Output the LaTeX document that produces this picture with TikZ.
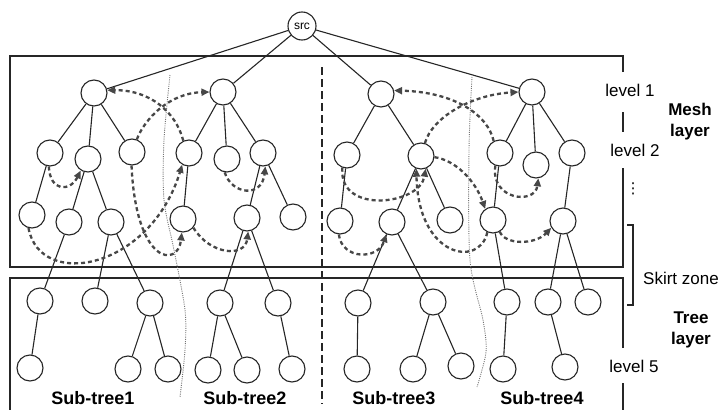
\documentclass[tikz,border=0pt]{standalone}
\usepackage{fontspec}
\setmainfont{Liberation Sans}
\newfontfamily\dejavu{DejaVu Sans}
\usetikzlibrary{arrows.meta}
\begin{document}
\begin{tikzpicture}[x=1pt,y=-1pt,
  nd/.style={circle,draw=black!85,fill=white,line width=1.1pt,minimum size=26pt,inner sep=0pt},
  edge/.style={draw=black!85,line width=1.1pt},
  mesharrow/.style={draw=black!72,line width=2.3pt,dash pattern=on 4pt off 3pt,-{Triangle[length=8pt,width=7pt]}},
  frame/.style={draw=black!85,line width=1.4pt},
  divider/.style={draw=black!85,line width=1.2pt,dash pattern=on 8pt off 4pt},
  border/.style={draw=black!55,line width=0.9pt,dash pattern=on 1pt off 1.2pt},
  lbl/.style={font=\fontsize{17}{20}\selectfont,inner sep=0pt},
  blbl/.style={font=\fontsize{17}{21}\selectfont\bfseries,align=center,inner sep=0pt},
  sublbl/.style={font=\fontsize{18}{21}\selectfont\bfseries,inner sep=0pt}
]
\useasboundingbox (0,0) rectangle (721,410);

% frames
\draw[frame] (623,72) -- (623,56) -- (10,56) -- (10,267) -- (623,267) -- (623,168);
\draw[frame] (623,112) -- (623,132);
\draw[frame] (623,348) -- (623,278) -- (10,278) -- (10,410);
\draw[frame] (623,383) -- (623,410);
% skirt bracket
\draw[frame,line width=1.2pt] (627,225) -- (633,225) -- (633,305) -- (627,305);

% dotted sub-tree borders
\draw[border] plot[smooth] coordinates {(170,75) (164,140) (164,200) (174,250) (185,310) (185,350) (180,397)};
\draw[border] plot[smooth] coordinates {(472,77) (469,150) (470,260) (483,320) (486,352) (477,387)};
% dashed divider
\draw[divider] (322,67) -- (322,404);

% nodes
\node[nd,minimum size=28pt,font=\fontsize{12}{14}\selectfont] (src) at (302,26) {src};
% sub-tree 1
\node[nd] (A1) at (94,93) {};
\node[nd] (B1) at (50,153) {};
\node[nd] (B2) at (88,159) {};
\node[nd] (B3) at (132,152) {};
\node[nd] (C1) at (32,215) {};
\node[nd] (C2) at (69,222) {};
\node[nd] (C3) at (111,222) {};
\node[nd] (D1) at (40,301) {};
\node[nd] (D2) at (95,301) {};
\node[nd] (D3) at (150,303) {};
\node[nd] (E1) at (30,368) {};
\node[nd] (E2) at (128,369) {};
\node[nd] (E3) at (168,369) {};
% sub-tree 2
\node[nd] (A2) at (223,92) {};
\node[nd] (F1) at (189,153) {};
\node[nd] (F2) at (227,159) {};
\node[nd] (F3) at (263,153) {};
\node[nd] (G1) at (183,219) {};
\node[nd] (G2) at (247,218) {};
\node[nd] (G3) at (293,217) {};
\node[nd] (H1) at (220,303) {};
\node[nd] (H2) at (278,303) {};
\node[nd] (I1) at (208,370) {};
\node[nd] (I2) at (247,370) {};
\node[nd] (I3) at (292,369) {};
% sub-tree 3
\node[nd] (A3) at (381,94) {};
\node[nd] (J1) at (347,155) {};
\node[nd] (J2) at (421,156) {};
\node[nd] (K1) at (340,221) {};
\node[nd] (K2) at (392,222) {};
\node[nd] (K3) at (450,220) {};
\node[nd] (L1) at (358,303) {};
\node[nd] (L2) at (433,302) {};
\node[nd] (M1) at (357,369) {};
\node[nd] (M2) at (413,369) {};
\node[nd] (M3) at (461,366) {};
% sub-tree 4
\node[nd] (A4) at (532,92) {};
\node[nd] (N1) at (500,153) {};
\node[nd] (N2) at (536,165) {};
\node[nd] (N3) at (572,153) {};
\node[nd] (O1) at (493,220) {};
\node[nd] (O2) at (563,221) {};
\node[nd] (P1) at (507,302) {};
\node[nd] (P2) at (548,302) {};
\node[nd] (P3) at (588,302) {};
\node[nd] (Q1) at (503,369) {};
\node[nd] (Q2) at (565,367) {};

% tree edges
\draw[edge] (src) -- (A1);
\draw[edge] (src) -- (A2);
\draw[edge] (src) -- (A3);
\draw[edge] (src) -- (A4);
\draw[edge] (A1) -- (B1);
\draw[edge] (A1) -- (B2);
\draw[edge] (A1) -- (B3);
\draw[edge] (B1) -- (C1);
\draw[edge] (B2) -- (C2);
\draw[edge] (B2) -- (C3);
\draw[edge] (C2) -- (D1);
\draw[edge] (C3) -- (D2);
\draw[edge] (C3) -- (D3);
\draw[edge] (D1) -- (E1);
\draw[edge] (D3) -- (E2);
\draw[edge] (D3) -- (E3);
\draw[edge] (A2) -- (F1);
\draw[edge] (A2) -- (F2);
\draw[edge] (A2) -- (F3);
\draw[edge] (F1) -- (G1);
\draw[edge] (F3) -- (G2);
\draw[edge] (F3) -- (G3);
\draw[edge] (G2) -- (H1);
\draw[edge] (G2) -- (H2);
\draw[edge] (H1) -- (I1);
\draw[edge] (H1) -- (I2);
\draw[edge] (H2) -- (I3);
\draw[edge] (A3) -- (J1);
\draw[edge] (A3) -- (J2);
\draw[edge] (J1) -- (K1);
\draw[edge] (J2) -- (K2);
\draw[edge] (J2) -- (K3);
\draw[edge] (K2) -- (L1);
\draw[edge] (K2) -- (L2);
\draw[edge] (L1) -- (M1);
\draw[edge] (L2) -- (M2);
\draw[edge] (L2) -- (M3);
\draw[edge] (A4) -- (N1);
\draw[edge] (A4) -- (N2);
\draw[edge] (A4) -- (N3);
\draw[edge] (N1) -- (O1);
\draw[edge] (N3) -- (O2);
\draw[edge] (O1) -- (P1);
\draw[edge] (O2) -- (P2);
\draw[edge] (O2) -- (P3);
\draw[edge] (P1) -- (Q1);
\draw[edge] (P2) -- (Q2);

% mesh (dashed) arrows
\draw[mesharrow] (F1.115) .. controls (176,112) and (150,90) .. (A1.12);
\draw[mesharrow] (B3.69) .. controls (145,118) and (170,93) .. (A2.180);
\draw[mesharrow] (N1.118) .. controls (488,115) and (455,92) .. (A3.15);
\draw[mesharrow] (J2.73) .. controls (432,118) and (470,95) .. (A4.180);
\draw[mesharrow] (B1.265) .. controls (50,192) and (70,192) .. (B2.238);
\draw[mesharrow] (B3.268) .. controls (136,265) and (178,268) .. (G1.265);
\draw[mesharrow] (C1.255) .. controls (40,290) and (150,270) .. (F1.240);
\draw[mesharrow] (F2.260) .. controls (232,195) and (262,198) .. (F3.280);
\draw[mesharrow] (G1.320) .. controls (210,255) and (245,258) .. (G2.275);
\draw[mesharrow] (J1.250) .. controls (338,215) and (420,205) .. (J2.290);
\draw[mesharrow] (O1.245) .. controls (480,268) and (418,258) .. (J2.250);
\draw[mesharrow] (J2.355) .. controls (455,160) and (475,180) .. (O1.125);
\draw[mesharrow] (K1.265) .. controls (342,260) and (378,260) .. (K2.245);
\draw[mesharrow] (N1.250) .. controls (490,200) and (535,205) .. (N2.280);
\draw[mesharrow] (O1.300) .. controls (505,245) and (535,245) .. (O2.210);

% labels
\node[lbl] (lv1) at (630,90) {level 1};
\node[lbl] (lv2) at (635,150) {level 2};
\node[lbl,font=\dejavu\fontsize{15}{18}\selectfont] (lvd) at (633,189) {⋮};
\node[lbl] (lv5) at (634,366) {level 5};
\node[lbl] (skirt) at (681,278) {Skirt zone};
\node[blbl] (mesh) at (690,122) {Mesh\\layer};
\node[blbl] (tree) at (691,330) {Tree\\layer};
\node[sublbl] (st1) at (93,398) {Sub-tree1};
\node[sublbl] (st2) at (245,398) {Sub-tree2};
\node[sublbl] (st3) at (394,398) {Sub-tree3};
\node[sublbl] (st4) at (542,398) {Sub-tree4};
\end{tikzpicture}
\end{document}
